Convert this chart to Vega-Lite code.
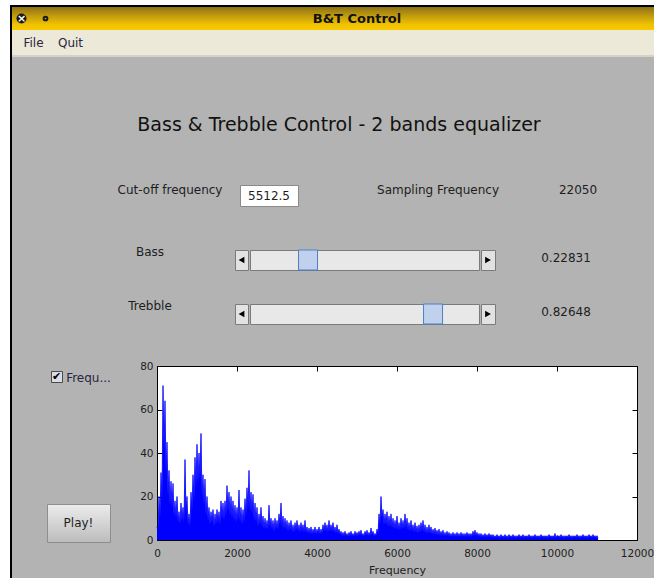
{
"$schema": "https://vega.github.io/schema/vega-lite/v6.json",
"background": "#b3b3b3",
"padding": 0,
"config": {
  "view": {"stroke": null},
  "concat": {"spacing": 0},
  "text": {"font": "DejaVu Sans", "fontSize": 12, "color": "#1e1e1e"}
},
"datasets": {
  "sliders": [{"band": "Bass", "value": 0.22831}, {"band": "Trebble", "value": 0.82648}],
  "settings": [{"cutoff": 5512.5, "fs": 22050}],
  "spectrum": [
{"f":0,"a":6},{"f":25,"a":4},{"f":50,"a":20},{"f":75,"a":10},{"f":100,"a":31},{"f":125,"a":18},{"f":150,"a":71},{"f":175,"a":40},{"f":200,"a":64},{"f":225,"a":30},
{"f":250,"a":45},{"f":275,"a":20},{"f":300,"a":32},{"f":325,"a":16},{"f":350,"a":27},{"f":375,"a":15},{"f":400,"a":26},{"f":425,"a":11},{"f":450,"a":18},{"f":475,"a":10},
{"f":500,"a":20},{"f":525,"a":8},{"f":550,"a":13},{"f":575,"a":7},{"f":600,"a":17},{"f":625,"a":9},{"f":650,"a":15},{"f":675,"a":8},{"f":700,"a":37},{"f":725,"a":12},
{"f":750,"a":20},{"f":775,"a":7},{"f":800,"a":12},{"f":825,"a":6},{"f":850,"a":22},{"f":875,"a":13},{"f":900,"a":30},{"f":925,"a":18},{"f":950,"a":38},{"f":975,"a":24},
{"f":1000,"a":44},{"f":1025,"a":26},{"f":1050,"a":40},{"f":1075,"a":28},{"f":1100,"a":49},{"f":1125,"a":20},{"f":1150,"a":30},{"f":1175,"a":16},{"f":1200,"a":28},{"f":1225,"a":11},
{"f":1250,"a":20},{"f":1275,"a":9},{"f":1300,"a":15},{"f":1325,"a":7},{"f":1350,"a":13},{"f":1375,"a":8},{"f":1400,"a":14},{"f":1425,"a":6},{"f":1450,"a":12},{"f":1475,"a":7},
{"f":1500,"a":14},{"f":1525,"a":8},{"f":1550,"a":13},{"f":1575,"a":7},{"f":1600,"a":18},{"f":1625,"a":10},{"f":1650,"a":17},{"f":1675,"a":9},{"f":1700,"a":18},{"f":1725,"a":11},
{"f":1750,"a":25},{"f":1775,"a":13},{"f":1800,"a":22},{"f":1825,"a":11},{"f":1850,"a":20},{"f":1875,"a":10},{"f":1900,"a":18},{"f":1925,"a":9},{"f":1950,"a":16},{"f":1975,"a":8},
{"f":2000,"a":15},{"f":2025,"a":9},{"f":2050,"a":23},{"f":2075,"a":8},{"f":2100,"a":15},{"f":2125,"a":7},{"f":2150,"a":14},{"f":2175,"a":8},{"f":2200,"a":19},{"f":2225,"a":11},
{"f":2250,"a":24},{"f":2275,"a":14},{"f":2300,"a":32},{"f":2325,"a":13},{"f":2350,"a":22},{"f":2375,"a":12},{"f":2400,"a":21},{"f":2425,"a":9},{"f":2450,"a":17},{"f":2475,"a":8},
{"f":2500,"a":15},{"f":2525,"a":6},{"f":2550,"a":12},{"f":2575,"a":7},{"f":2600,"a":15},{"f":2625,"a":6},{"f":2650,"a":11},{"f":2675,"a":5},{"f":2700,"a":10},{"f":2725,"a":5},
{"f":2750,"a":9},{"f":2775,"a":5},{"f":2800,"a":16},{"f":2825,"a":6},{"f":2850,"a":10},{"f":2875,"a":5},{"f":2900,"a":9},{"f":2925,"a":4},{"f":2950,"a":10},{"f":2975,"a":5},
{"f":3000,"a":9},{"f":3025,"a":5},{"f":3050,"a":12},{"f":3075,"a":7},{"f":3100,"a":17},{"f":3125,"a":6},{"f":3150,"a":11},{"f":3175,"a":5},{"f":3200,"a":10},{"f":3225,"a":5},
{"f":3250,"a":9},{"f":3275,"a":4},{"f":3300,"a":8},{"f":3325,"a":4.5},{"f":3350,"a":9},{"f":3375,"a":4},{"f":3400,"a":7},{"f":3425,"a":3.5},{"f":3450,"a":8},{"f":3475,"a":4.5},
{"f":3500,"a":9},{"f":3525,"a":4},{"f":3550,"a":7},{"f":3575,"a":3.5},{"f":3600,"a":8},{"f":3625,"a":4},{"f":3650,"a":7},{"f":3675,"a":3.5},{"f":3700,"a":9},{"f":3725,"a":3.5},
{"f":3750,"a":6},{"f":3775,"a":3},{"f":3800,"a":5.5},{"f":3825,"a":3},{"f":3850,"a":6},{"f":3875,"a":2.5},{"f":3900,"a":5},{"f":3925,"a":3},{"f":3950,"a":6},{"f":3975,"a":2.5},
{"f":4000,"a":5},{"f":4025,"a":3},{"f":4050,"a":6},{"f":4075,"a":2.5},{"f":4100,"a":5},{"f":4125,"a":3},{"f":4150,"a":7},{"f":4175,"a":4},{"f":4200,"a":8},{"f":4225,"a":4},
{"f":4250,"a":7},{"f":4275,"a":3.5},{"f":4300,"a":9},{"f":4325,"a":4},{"f":4350,"a":7},{"f":4375,"a":4},{"f":4400,"a":8},{"f":4425,"a":3.5},{"f":4450,"a":6},{"f":4475,"a":3},
{"f":4500,"a":7},{"f":4525,"a":3},{"f":4550,"a":5},{"f":4575,"a":2.5},{"f":4600,"a":4},{"f":4625,"a":2},{"f":4650,"a":3.5},{"f":4675,"a":2},{"f":4700,"a":4},{"f":4725,"a":1.8},
{"f":4750,"a":3},{"f":4775,"a":1.6},{"f":4800,"a":3.5},{"f":4825,"a":2},{"f":4850,"a":4},{"f":4875,"a":1.8},{"f":4900,"a":3},{"f":4925,"a":1.6},{"f":4950,"a":4},{"f":4975,"a":2},
{"f":5000,"a":3.5},{"f":5025,"a":2},{"f":5050,"a":4},{"f":5075,"a":2.2},{"f":5100,"a":4.5},{"f":5125,"a":1.8},{"f":5150,"a":3},{"f":5175,"a":1.7},{"f":5200,"a":4},{"f":5225,"a":2.2},
{"f":5250,"a":4.5},{"f":5275,"a":2},{"f":5300,"a":3.5},{"f":5325,"a":2},{"f":5350,"a":5.5},{"f":5375,"a":2.4},{"f":5400,"a":4},{"f":5425,"a":1.8},{"f":5450,"a":3},{"f":5475,"a":1.8},
{"f":5500,"a":5},{"f":5525,"a":3},{"f":5550,"a":12},{"f":5575,"a":7},{"f":5600,"a":20},{"f":5625,"a":10},{"f":5650,"a":14},{"f":5675,"a":7},{"f":5700,"a":12},{"f":5725,"a":7},
{"f":5750,"a":13},{"f":5775,"a":6},{"f":5800,"a":11},{"f":5825,"a":6},{"f":5850,"a":12},{"f":5875,"a":5.5},{"f":5900,"a":10},{"f":5925,"a":5},{"f":5950,"a":9},{"f":5975,"a":5},
{"f":6000,"a":11},{"f":6025,"a":4.5},{"f":6050,"a":8},{"f":6075,"a":4.5},{"f":6100,"a":10},{"f":6125,"a":5},{"f":6150,"a":9},{"f":6175,"a":5},{"f":6200,"a":12},{"f":6225,"a":5.5},
{"f":6250,"a":10},{"f":6275,"a":4.5},{"f":6300,"a":8},{"f":6325,"a":4},{"f":6350,"a":9},{"f":6375,"a":4},{"f":6400,"a":7},{"f":6425,"a":3.5},{"f":6450,"a":8},{"f":6475,"a":3.5},
{"f":6500,"a":6.5},{"f":6525,"a":3},{"f":6550,"a":7},{"f":6575,"a":3.5},{"f":6600,"a":8},{"f":6625,"a":4},{"f":6650,"a":9},{"f":6675,"a":3.5},{"f":6700,"a":7},{"f":6725,"a":3},
{"f":6750,"a":6},{"f":6775,"a":3},{"f":6800,"a":7},{"f":6825,"a":3},{"f":6850,"a":6},{"f":6875,"a":2.5},{"f":6900,"a":5},{"f":6925,"a":2.5},{"f":6950,"a":5.5},{"f":6975,"a":2.3},
{"f":7000,"a":4.5},{"f":7025,"a":2.2},{"f":7050,"a":5},{"f":7075,"a":2},{"f":7100,"a":4},{"f":7125,"a":2},{"f":7150,"a":4.5},{"f":7175,"a":1.8},{"f":7200,"a":3.5},{"f":7225,"a":1.8},
{"f":7250,"a":4},{"f":7275,"a":1.8},{"f":7300,"a":3.5},{"f":7325,"a":1.6},{"f":7350,"a":3},{"f":7375,"a":1.5},{"f":7400,"a":3.5},{"f":7425,"a":1.6},{"f":7450,"a":3},{"f":7475,"a":1.5},
{"f":7500,"a":3.5},{"f":7525,"a":1.6},{"f":7550,"a":3},{"f":7575,"a":1.5},{"f":7600,"a":3.5},{"f":7625,"a":1.6},{"f":7650,"a":3},{"f":7675,"a":1.5},{"f":7700,"a":3},{"f":7725,"a":1.5},
{"f":7750,"a":3.5},{"f":7775,"a":1.6},{"f":7800,"a":3},{"f":7825,"a":1.5},{"f":7850,"a":3},{"f":7875,"a":1.6},{"f":7900,"a":4},{"f":7925,"a":2},{"f":7950,"a":4.5},{"f":7975,"a":2},
{"f":8000,"a":3.5},{"f":8025,"a":1.6},{"f":8050,"a":3},{"f":8075,"a":1.5},{"f":8100,"a":3},{"f":8125,"a":1.4},{"f":8150,"a":2.5},{"f":8175,"a":1.3},{"f":8200,"a":3},{"f":8225,"a":1.4},
{"f":8250,"a":2.5},{"f":8275,"a":1.3},{"f":8300,"a":3},{"f":8325,"a":1.4},{"f":8350,"a":2.5},{"f":8375,"a":1.3},{"f":8400,"a":2.5},{"f":8425,"a":1.2},{"f":8450,"a":2},{"f":8475,"a":1.1},
{"f":8500,"a":2.5},{"f":8525,"a":1.2},{"f":8550,"a":2},{"f":8575,"a":1},{"f":8600,"a":2.5},{"f":8625,"a":1.3},{"f":8650,"a":2},{"f":8675,"a":1.1},{"f":8700,"a":2.5},{"f":8725,"a":1.2},
{"f":8750,"a":2},{"f":8775,"a":1},{"f":8800,"a":2.5},{"f":8825,"a":1.3},{"f":8850,"a":2},{"f":8875,"a":1.1},{"f":8900,"a":2.5},{"f":8925,"a":1.2},{"f":8950,"a":2},{"f":8975,"a":1},
{"f":9000,"a":2},{"f":9025,"a":1.3},{"f":9050,"a":2.5},{"f":9075,"a":1.1},{"f":9100,"a":2},{"f":9125,"a":1.2},{"f":9150,"a":2.5},{"f":9175,"a":1},{"f":9200,"a":2},{"f":9225,"a":1.3},
{"f":9250,"a":2},{"f":9275,"a":1.1},{"f":9300,"a":2.5},{"f":9325,"a":1.2},{"f":9350,"a":2},{"f":9375,"a":1},{"f":9400,"a":2},{"f":9425,"a":1.3},{"f":9450,"a":2.5},{"f":9475,"a":1.1},
{"f":9500,"a":2},{"f":9525,"a":1.2},{"f":9550,"a":2},{"f":9575,"a":1},{"f":9600,"a":2.5},{"f":9625,"a":1.3},{"f":9650,"a":2},{"f":9675,"a":1.1},{"f":9700,"a":2},{"f":9725,"a":1.2},
{"f":9750,"a":2},{"f":9775,"a":1},{"f":9800,"a":2.5},{"f":9825,"a":1.3},{"f":9850,"a":2},{"f":9875,"a":1.1},{"f":9900,"a":2},{"f":9925,"a":1.2},{"f":9950,"a":3},{"f":9975,"a":1},
{"f":10000,"a":2},{"f":10025,"a":1.3},{"f":10050,"a":2},{"f":10075,"a":1.1},{"f":10100,"a":2.5},{"f":10125,"a":1.2},{"f":10150,"a":2},{"f":10175,"a":1},{"f":10200,"a":2},{"f":10225,"a":1.3},
{"f":10250,"a":2},{"f":10275,"a":1.1},{"f":10300,"a":2.5},{"f":10325,"a":1.2},{"f":10350,"a":2},{"f":10375,"a":1},{"f":10400,"a":2},{"f":10425,"a":1.3},{"f":10450,"a":2},{"f":10475,"a":1.1},
{"f":10500,"a":2.5},{"f":10525,"a":1.2},{"f":10550,"a":2},{"f":10575,"a":1},{"f":10600,"a":2},{"f":10625,"a":1.3},{"f":10650,"a":2.5},{"f":10675,"a":1.1},{"f":10700,"a":2},{"f":10725,"a":1.2},
{"f":10750,"a":2},{"f":10775,"a":1},{"f":10800,"a":2.5},{"f":10825,"a":1.3},{"f":10850,"a":2},{"f":10875,"a":1.1},{"f":10900,"a":2.5},{"f":10925,"a":1.2},{"f":10950,"a":2},{"f":10975,"a":1},
{"f":11000,"a":2},{"f":11025,"a":0.8}
  ]
},
"spacing": 0,
"vconcat": [
  {"width": 654, "height": 5, "view": {"fill": "#ffffff"}, "data": {"values": []}, "mark": "point"},
  {"spacing": 0, "hconcat": [
    {"width": 10, "height": 573, "view": {"fill": "#ffffff"}, "data": {"values": []}, "mark": "point"},
    {"width": 2, "height": 573, "view": {"fill": "#000000"}, "data": {"values": []}, "mark": "point"},
    {"spacing": 0, "vconcat": [
      {"width": 642, "height": 2, "view": {"fill": "#000000"}, "data": {"values": []}, "mark": "point"},
      {"spacing": 0, "hconcat": [
        {"width": 19, "height": 23,
         "view": {"fill": {"gradient": "linear", "x1": 0, "y1": 0, "x2": 0, "y2": 1, "stops": [{"offset": 0, "color": "#8c7216"}, {"offset": 0.4, "color": "#c49d0e"}, {"offset": 0.75, "color": "#efc100"}, {"offset": 1, "color": "#f7ca00"}]}},
         "data": {"values": [{"icon": "×"}]},
         "layer": [
           {"mark": {"type": "point", "shape": "circle", "filled": true, "color": "#1a1a1a", "opacity": 1, "size": 100}},
           {"mark": {"type": "text", "color": "#ffffff", "fontSize": 11, "fontWeight": "bold"}, "encoding": {"text": {"field": "icon"}}}
         ]},
        {"width": 29, "height": 23,
         "view": {"fill": {"gradient": "linear", "x1": 0, "y1": 0, "x2": 0, "y2": 1, "stops": [{"offset": 0, "color": "#8c7216"}, {"offset": 0.4, "color": "#c49d0e"}, {"offset": 0.75, "color": "#efc100"}, {"offset": 1, "color": "#f7ca00"}]}},
         "data": {"values": [{"icon": "menu"}]},
         "mark": {"type": "point", "shape": "circle", "filled": false, "color": "#1a1a1a", "opacity": 1, "strokeWidth": 2, "size": 14}},
        {"width": 594, "height": 23,
         "view": {"fill": {"gradient": "linear", "x1": 0, "y1": 0, "x2": 0, "y2": 1, "stops": [{"offset": 0, "color": "#8c7216"}, {"offset": 0.4, "color": "#c49d0e"}, {"offset": 0.75, "color": "#efc100"}, {"offset": 1, "color": "#f7ca00"}]}},
         "data": {"values": [{"title": "B&T Control"}]},
         "mark": {"type": "text", "fontWeight": "bold", "fontSize": 13, "color": "#111111"},
         "encoding": {"text": {"field": "title"}}}
      ]},
      {"spacing": 0, "hconcat": [
        {"width": 9, "height": 25, "view": {"fill": "#ece9d8"}, "data": {"values": []}, "mark": "point"},
        {"width": 25, "height": 25, "view": {"fill": "#ece9d8"}, "data": {"values": [{"item": "File"}]}, "mark": {"type": "text", "color": "#2a2540"}, "encoding": {"text": {"field": "item"}}},
        {"width": 10, "height": 25, "view": {"fill": "#ece9d8"}, "data": {"values": []}, "mark": "point"},
        {"width": 29, "height": 25, "view": {"fill": "#ece9d8"}, "data": {"values": [{"item": "Quit"}]}, "mark": {"type": "text", "color": "#2a2540"}, "encoding": {"text": {"field": "item"}}},
        {"width": 569, "height": 25, "view": {"fill": "#ece9d8"}, "data": {"values": []}, "mark": "point"}
      ]},
      {"width": 642, "height": 2, "view": {"fill": "#d4d2c8"}, "data": {"values": []}, "mark": "point"},
      {"spacing": 0, "vconcat": [
        {"width": 10, "height": 53, "data": {"values": []}, "mark": "point"},
        {"spacing": 0, "hconcat": [
          {"width": 12, "height": 30, "data": {"values": []}, "mark": "point"},
          {"width": 630, "height": 30, "data": {"values": [{"heading": "Bass & Trebble Control - 2 bands equalizer"}]}, "mark": {"type": "text", "fontSize": 19, "color": "#111111"}, "encoding": {"text": {"field": "heading"}}}
        ]},
        {"width": 10, "height": 40, "data": {"values": []}, "mark": "point"},
        {"spacing": 0, "hconcat": [
          {"width": 98, "height": 20, "data": {"values": []}, "mark": "point"},
          {"width": 120, "height": 20, "data": {"values": [{"label": "Cut-off frequency"}]}, "mark": "text", "encoding": {"text": {"field": "label"}}},
          {"width": 9, "height": 20, "data": {"values": []}, "mark": "point"},
          {"spacing": 0, "vconcat": [
            {"width": 58, "height": 4, "data": {"values": []}, "mark": "point"},
            {"width": 58, "height": 21, "view": {"fill": "#ffffff", "stroke": "#8a8a8a"}, "data": {"name": "settings"}, "mark": "text", "encoding": {"text": {"field": "cutoff", "type": "nominal"}}}
          ]},
          {"width": 69, "height": 20, "data": {"values": []}, "mark": "point"},
          {"width": 140, "height": 20, "data": {"values": [{"label": "Sampling Frequency"}]}, "mark": "text", "encoding": {"text": {"field": "label"}}},
          {"width": 40, "height": 20, "data": {"values": []}, "mark": "point"},
          {"width": 60, "height": 20, "data": {"name": "settings"}, "mark": "text", "encoding": {"text": {"field": "fs", "type": "nominal"}}}
        ]},
        {"width": 10, "height": 35, "data": {"values": []}, "mark": "point"},
        {"spacing": 0, "hconcat": [
          {"width": 108, "height": 20, "data": {"values": []}, "mark": "point"},
          {"width": 60, "height": 20, "data": {"name": "sliders"}, "transform": [{"filter": {"field": "band", "equal": "Bass"}}], "mark": "text", "encoding": {"text": {"field": "band"}}},
          {"width": 54, "height": 20, "data": {"values": []}, "mark": "point"},
          {"spacing": 0, "vconcat": [
            {"width": 259, "height": 7, "data": {"values": []}, "mark": "point"},
            {"spacing": 0, "hconcat": [
              {"width": 13, "height": 20, "view": {"fill": "#e2e2e2", "stroke": "#7a7a7a"}, "data": {"values": [{"arrow": "left"}]}, "mark": {"type": "point", "shape": "triangle-left", "filled": true, "color": "#000000", "opacity": 1, "size": 45}},
              {"width": 229, "height": 20, "view": {"fill": "#e8e8e8", "stroke": "#7a7a7a"}, "data": {"name": "sliders"}, "transform": [{"filter": {"field": "band", "equal": "Bass"}}],
               "mark": {"type": "tick", "thickness": 19, "size": 20, "color": "#bfd1ec", "stroke": "#4f7fc4", "strokeWidth": 1, "opacity": 1},
               "encoding": {"x": {"field": "value", "type": "quantitative", "scale": {"domain": [0, 1], "range": [10.3, 219.3]}, "axis": null}}},
              {"width": 14, "height": 20, "view": {"fill": "#e2e2e2", "stroke": "#7a7a7a"}, "data": {"values": [{"arrow": "right"}]}, "mark": {"type": "point", "shape": "triangle-right", "filled": true, "color": "#000000", "opacity": 1, "size": 45}}
            ]}
          ]},
          {"width": 40, "height": 20, "data": {"values": []}, "mark": "point"},
          {"spacing": 0, "vconcat": [
            {"width": 60, "height": 6, "data": {"values": []}, "mark": "point"},
            {"width": 60, "height": 20, "data": {"name": "sliders"}, "transform": [{"filter": {"field": "band", "equal": "Bass"}}], "mark": "text", "encoding": {"text": {"field": "value", "type": "nominal"}}}
          ]}
        ]},
        {"width": 10, "height": 25, "data": {"values": []}, "mark": "point"},
        {"spacing": 0, "hconcat": [
          {"width": 108, "height": 20, "data": {"values": []}, "mark": "point"},
          {"width": 60, "height": 20, "data": {"name": "sliders"}, "transform": [{"filter": {"field": "band", "equal": "Trebble"}}], "mark": "text", "encoding": {"text": {"field": "band"}}},
          {"width": 54, "height": 20, "data": {"values": []}, "mark": "point"},
          {"spacing": 0, "vconcat": [
            {"width": 259, "height": 7, "data": {"values": []}, "mark": "point"},
            {"spacing": 0, "hconcat": [
              {"width": 13, "height": 20, "view": {"fill": "#e2e2e2", "stroke": "#7a7a7a"}, "data": {"values": [{"arrow": "left"}]}, "mark": {"type": "point", "shape": "triangle-left", "filled": true, "color": "#000000", "opacity": 1, "size": 45}},
              {"width": 229, "height": 20, "view": {"fill": "#e8e8e8", "stroke": "#7a7a7a"}, "data": {"name": "sliders"}, "transform": [{"filter": {"field": "band", "equal": "Trebble"}}],
               "mark": {"type": "tick", "thickness": 19, "size": 20, "color": "#bfd1ec", "stroke": "#4f7fc4", "strokeWidth": 1, "opacity": 1},
               "encoding": {"x": {"field": "value", "type": "quantitative", "scale": {"domain": [0, 1], "range": [10.3, 219.3]}, "axis": null}}},
              {"width": 14, "height": 20, "view": {"fill": "#e2e2e2", "stroke": "#7a7a7a"}, "data": {"values": [{"arrow": "right"}]}, "mark": {"type": "point", "shape": "triangle-right", "filled": true, "color": "#000000", "opacity": 1, "size": 45}}
            ]}
          ]},
          {"width": 40, "height": 20, "data": {"values": []}, "mark": "point"},
          {"spacing": 0, "vconcat": [
            {"width": 60, "height": 6, "data": {"values": []}, "mark": "point"},
            {"width": 60, "height": 20, "data": {"name": "sliders"}, "transform": [{"filter": {"field": "band", "equal": "Trebble"}}], "mark": "text", "encoding": {"text": {"field": "value", "type": "nominal"}}}
          ]}
        ]},
        {"width": 10, "height": 35, "data": {"values": []}, "mark": "point"},
        {"spacing": 0, "hconcat": [
          {"spacing": 0, "vconcat": [
            {"width": 127, "height": 4, "data": {"values": []}, "mark": "point"},
            {"spacing": 0, "hconcat": [
              {"width": 38, "height": 12, "data": {"values": []}, "mark": "point"},
              {"width": 11, "height": 11, "view": {"fill": "#d8dde6", "stroke": "#4a4a4a"}, "data": {"values": [{"checked": "✔"}]}, "mark": {"type": "text", "fontSize": 11, "color": "#000000"}, "encoding": {"text": {"field": "checked"}}},
              {"width": 1, "height": 12, "data": {"values": []}, "mark": "point"},
              {"width": 49, "height": 14, "data": {"values": [{"label": "Frequ..."}]}, "mark": {"type": "text", "color": "#2a2540"}, "encoding": {"text": {"field": "label"}}}
            ]},
            {"width": 127, "height": 118, "data": {"values": []}, "mark": "point"},
            {"spacing": 0, "hconcat": [
              {"width": 34, "height": 39, "data": {"values": []}, "mark": "point"},
              {"width": 63, "height": 38, "view": {"fill": {"gradient": "linear", "x1": 0, "y1": 0, "x2": 0, "y2": 1, "stops": [{"offset": 0, "color": "#ececec"}, {"offset": 1, "color": "#bcbcbc"}]}, "stroke": "#8e8e8e"}, "data": {"values": [{"label": "Play!"}]}, "mark": "text", "encoding": {"text": {"field": "label"}}}
            ]}
          ]},
          {"width": 480, "height": 174,
           "view": {"fill": "#ffffff", "stroke": "#000000", "strokeWidth": 1},
           "layer": [
             {"data": {"name": "spectrum"},
              "mark": {"type": "area", "color": "#0000ff", "opacity": 1, "line": {"color": "#0000ff", "strokeWidth": 0.8}},
              "encoding": {
                "x": {"field": "f", "type": "quantitative", "scale": {"domain": [0, 12000], "nice": false, "zero": false},
                      "axis": {"orient": "bottom", "values": [0, 2000, 4000, 6000, 8000, 10000, 12000], "format": "d", "title": "Frequency", "grid": false, "domain": false, "tickSize": -5, "tickColor": "#000000", "labelFont": "DejaVu Sans", "labelFontSize": 10.5, "labelColor": "#1e1e1e", "labelPadding": 13, "labelFlush": false, "labelOverlap": false, "titleFont": "DejaVu Sans", "titleFontSize": 11, "titleFontWeight": "normal", "titleColor": "#1e1e1e", "titlePadding": 6}},
                "y": {"field": "a", "type": "quantitative", "scale": {"domain": [0, 80], "nice": false},
                      "axis": {"orient": "left", "values": [0, 20, 40, 60, 80], "title": null, "grid": false, "domain": false, "tickSize": -5, "tickColor": "#000000", "labelFont": "DejaVu Sans", "labelFontSize": 10.5, "labelColor": "#1e1e1e", "labelPadding": 9, "labelFlush": false, "labelOverlap": false}}
              }},
             {"data": {"values": [{"f": 0, "a": 0}]},
              "mark": {"type": "point", "opacity": 0},
              "encoding": {
                "x": {"field": "f", "type": "quantitative", "scale": {"domain": [0, 12000], "nice": false, "zero": false},
                      "axis": {"orient": "top", "values": [0, 2000, 4000, 6000, 8000, 10000, 12000], "labels": false, "title": null, "grid": false, "domain": false, "tickSize": -5, "tickColor": "#000000"}},
                "y": {"field": "a", "type": "quantitative", "scale": {"domain": [0, 80], "nice": false},
                      "axis": {"orient": "right", "values": [0, 20, 40, 60, 80], "labels": false, "title": null, "grid": false, "domain": false, "tickSize": -5, "tickColor": "#000000"}}
              }}
           ],
           "resolve": {"axis": {"x": "independent", "y": "independent"}}}
        ]}
      ]}
    ]}
  ]}
]
}
